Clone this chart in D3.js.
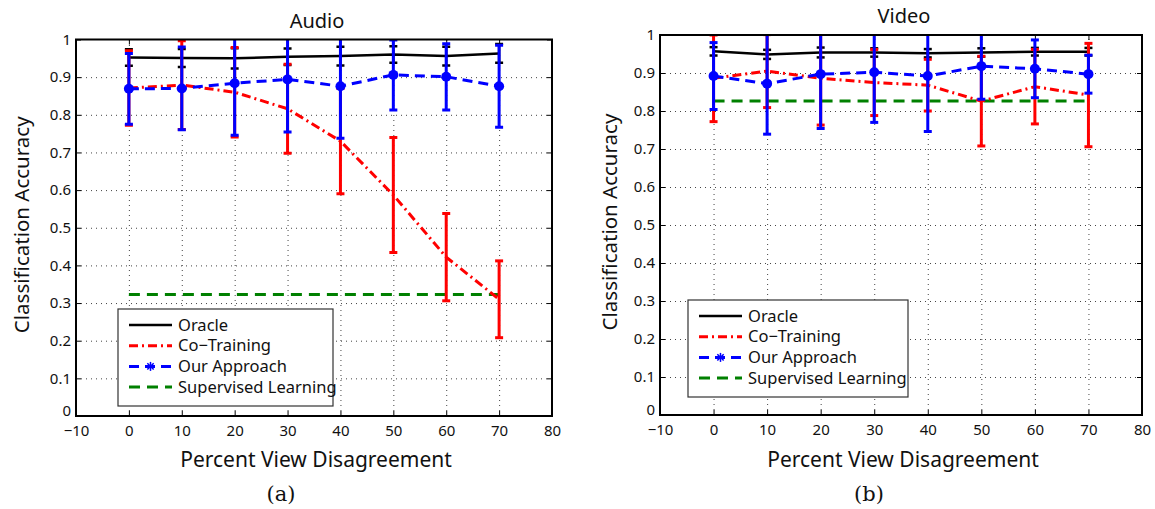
<!DOCTYPE html>
<html>
<head>
<meta charset="utf-8">
<script src="https://cdn.jsdelivr.net/npm/d3@7"></script>
<style>
  body { margin: 0; background: #fff; }
  svg text { font-family: "Noto Sans", "DejaVu Sans", sans-serif; fill: #111; }
  .grid line { stroke: #444; stroke-width: 1; stroke-dasharray: 1,4; }
  .grid path { display: none; }
</style>
</head>
<body>
<div id="chart"></div>
<script>
// data
const disagreement = [0, 10, 20, 30, 40, 50, 60, 70];
const seriesNames = ["Oracle", "Co\u2212Training", "Our Approach", "Supervised Learning"];

const audioOracle = [0.952, 0.951, 0.950, 0.954, 0.956, 0.960, 0.956, 0.963];
const audioOracleErr = [0.022, 0.024, 0.027, 0.022, 0.025, 0.022, 0.025, 0.025];
const audioCoTrain = [0.871, 0.879, 0.860, 0.816, 0.730, 0.587, 0.422, 0.310];
const audioCoTrainErr = [0.099, 0.118, 0.119, 0.118, 0.140, 0.153, 0.116, 0.102];
const audioOurs = [0.869, 0.870, 0.884, 0.894, 0.876, 0.906, 0.901, 0.876];
const audioOursErr = [0.094, 0.110, 0.138, 0.140, 0.138, 0.093, 0.088, 0.109];
const audioSupervised = 0.323;

const videoOracle = [0.957, 0.949, 0.954, 0.954, 0.952, 0.954, 0.956, 0.956];
const videoOracleErr = [0.011, 0.012, 0.013, 0.011, 0.011, 0.011, 0.010, 0.010];
const videoCoTrain = [0.886, 0.905, 0.886, 0.875, 0.868, 0.826, 0.864, 0.842];
const videoCoTrainErr = [0.114, 0.096, 0.123, 0.087, 0.068, 0.118, 0.098, 0.136];
const videoOurs = [0.892, 0.872, 0.897, 0.902, 0.892, 0.918, 0.911, 0.897];
const videoOursErr = [0.088, 0.133, 0.143, 0.132, 0.146, 0.087, 0.076, 0.050];
const videoSupervised = 0.826;

const xTicks = [-10, 0, 10, 20, 30, 40, 50, 60, 70, 80];
const yTicks = [0, 0.1, 0.2, 0.3, 0.4, 0.5, 0.6, 0.7, 0.8, 0.9, 1];

const width = 1155, height = 509;
const svg = d3.select("#chart").append("svg")
  .attr("width", width)
  .attr("height", height);

const styles = [
  { color: "#000000", dash: null, width: 2.5 },
  { color: "#ff0000", dash: "9,4,2,4", width: 3 },
  { color: "#0000ff", dash: "10,6", width: 3 },
  { color: "#008000", dash: "11,7", width: 3 }
];

function drawPanel(p) {
  const x = d3.scaleLinear().domain([-10, 80]).range([p.left, p.right]);
  const y = d3.scaleLinear().domain([0, 1]).range([p.bottom, p.top]);
  const g = svg.append("g");

  const clipId = "clip-" + p.id;
  svg.append("clipPath").attr("id", clipId)
    .append("rect")
    .attr("x", p.left).attr("y", p.top)
    .attr("width", p.right - p.left).attr("height", p.bottom - p.top);

  // grid
  g.append("g").attr("class", "grid")
    .attr("transform", `translate(0,${p.bottom})`)
    .call(d3.axisBottom(x).tickValues(xTicks.slice(1, -1)).tickSize(-(p.bottom - p.top)).tickFormat(""));
  g.append("g").attr("class", "grid")
    .attr("transform", `translate(${p.left},0)`)
    .call(d3.axisLeft(y).tickValues(yTicks.slice(1, -1)).tickSize(-(p.right - p.left)).tickFormat(""));

  // axes with tick labels
  const xAxis = g.append("g")
    .attr("transform", `translate(0,${p.bottom})`)
    .call(d3.axisBottom(x).tickValues(xTicks).tickSize(-5).tickPadding(9.5));
  const yAxis = g.append("g")
    .attr("transform", `translate(${p.left},0)`)
    .call(d3.axisLeft(y).tickValues(yTicks).tickSize(-5).tickPadding(5)
      .tickFormat(d => (d === 0 || d === 1) ? String(d) : d.toFixed(1)));
  [xAxis, yAxis].forEach(a => {
    a.select(".domain").remove();
    a.selectAll("line").attr("stroke", "#000");
    a.selectAll("text").style("font-size", "15px").attr("fill", "#111");
  });
  // lift the "0" a little, as in the original
  yAxis.selectAll(".tick").filter(d => d === 0).select("text").attr("dy", "-0.04em");

  // top and right ticks
  g.append("g").attr("transform", `translate(0,${p.top})`)
    .call(d3.axisTop(x).tickValues(xTicks).tickSize(-5).tickFormat(""))
    .call(a => a.select(".domain").remove());
  g.append("g").attr("transform", `translate(${p.right},0)`)
    .call(d3.axisRight(y).tickValues(yTicks).tickSize(-5).tickFormat(""))
    .call(a => a.select(".domain").remove());

  const plot = g.append("g").attr("clip-path", `url(#${clipId})`);

  // supervised baseline
  plot.append("line")
    .attr("x1", x(disagreement[0])).attr("x2", x(disagreement[disagreement.length - 1]))
    .attr("y1", y(p.supervised)).attr("y2", y(p.supervised))
    .attr("stroke", styles[3].color).attr("stroke-width", styles[3].width)
    .attr("stroke-dasharray", styles[3].dash);

  const series = [
    { mean: p.oracle, err: p.oracleErr, s: styles[0] },
    { mean: p.coTrain, err: p.coTrainErr, s: styles[1] },
    { mean: p.ours, err: p.oursErr, s: styles[2], marker: true }
  ];

  const line = d3.line().x((d, i) => x(disagreement[i])).y(d => y(d));

  series.forEach(sr => {
    const rows = disagreement.map((d, i) => ({ x: d, m: sr.mean[i], e: sr.err[i] }));
    const eb = plot.append("g")
      .attr("stroke", sr.s.color)
      .attr("stroke-width", sr.s === styles[0] ? 2.5 : 3);
    eb.selectAll(".bar").data(rows).enter().append("line")
      .attr("x1", d => x(d.x)).attr("x2", d => x(d.x))
      .attr("y1", d => y(d.m - d.e)).attr("y2", d => y(d.m + d.e));
    eb.selectAll(".capLo").data(rows).enter().append("line")
      .attr("x1", d => x(d.x) - 4).attr("x2", d => x(d.x) + 4)
      .attr("y1", d => y(d.m - d.e)).attr("y2", d => y(d.m - d.e));
    eb.selectAll(".capHi").data(rows).enter().append("line")
      .attr("x1", d => x(d.x) - 4).attr("x2", d => x(d.x) + 4)
      .attr("y1", d => y(d.m + d.e)).attr("y2", d => y(d.m + d.e));

    plot.append("path")
      .datum(sr.mean)
      .attr("d", line)
      .attr("fill", "none")
      .attr("stroke", sr.s.color)
      .attr("stroke-width", sr.s.width)
      .attr("stroke-dasharray", sr.s.dash);

    if (sr.marker) {
      plot.selectAll(".dot-" + p.id).data(rows).enter().append("circle")
        .attr("cx", d => x(d.x)).attr("cy", d => y(d.m))
        .attr("r", 5).attr("fill", sr.s.color);
    }
  });

  // box
  g.append("rect")
    .attr("x", p.left).attr("y", p.top)
    .attr("width", p.right - p.left).attr("height", p.bottom - p.top)
    .attr("fill", "none").attr("stroke", "#000").attr("stroke-width", 2);

  // title and labels
  g.append("text")
    .attr("x", (p.left + p.right) / 2 + 3).attr("y", p.top - 12)
    .attr("text-anchor", "middle").style("font-size", "20px")
    .text(p.title);
  g.append("text")
    .attr("x", (p.left + p.right) / 2 + 2).attr("y", 467)
    .attr("text-anchor", "middle").style("font-size", "21px")
    .text("Percent View Disagreement");
  g.append("text")
    .attr("transform", `rotate(-90)`)
    .attr("x", -(p.top + p.bottom) / 2 + 3).attr("y", p.yLabelX)
    .attr("text-anchor", "middle").style("font-size", "20.5px")
    .text("Classification Accuracy");
  g.append("text")
    .attr("x", p.captionX).attr("y", 501)
    .attr("text-anchor", "middle")
    .style("font-family", "'DejaVu Serif', 'Liberation Serif', serif")
    .style("font-size", "21px")
    .text(p.caption);

  // legend
  const lg = g.append("g").attr("transform", `translate(${p.legend[0]},${p.legend[1]})`);
  lg.append("rect")
    .attr("width", p.legend[2]).attr("height", 97)
    .attr("fill", "#fff").attr("stroke", "#333").attr("stroke-width", 1.2);
  seriesNames.forEach((name, i) => {
    const ly = 16 + i * 20.7;
    lg.append("line")
      .attr("x1", 11).attr("x2", 54).attr("y1", ly).attr("y2", ly)
      .attr("stroke", styles[i].color).attr("stroke-width", styles[i].width)
      .attr("stroke-dasharray", styles[i].dash);
    if (i === 2) {
      const star = lg.append("g").attr("transform", `translate(32.5,${ly})`)
        .attr("stroke", styles[i].color).attr("stroke-width", 1.5);
      [0, 45, 90, 135].forEach(a => {
        star.append("line")
          .attr("x1", -4.5).attr("x2", 4.5).attr("y1", 0).attr("y2", 0)
          .attr("transform", `rotate(${a})`);
      });
    }
    lg.append("text")
      .attr("x", 60).attr("y", ly + 5.5)
      .style("font-size", "16.5px")
      .text(name);
  });
}

drawPanel({
  id: "a", title: "Audio", caption: "(a)", captionX: 281, yLabelX: 29,
  left: 76, right: 552, top: 39.5, bottom: 416,
  oracle: audioOracle, oracleErr: audioOracleErr,
  coTrain: audioCoTrain, coTrainErr: audioCoTrainErr,
  ours: audioOurs, oursErr: audioOursErr,
  supervised: audioSupervised,
  legend: [118, 309, 215]
});

drawPanel({
  id: "b", title: "Video", caption: "(b)", captionX: 869, yLabelX: 617,
  left: 660, right: 1142, top: 35, bottom: 415,
  oracle: videoOracle, oracleErr: videoOracleErr,
  coTrain: videoCoTrain, coTrainErr: videoCoTrainErr,
  ours: videoOurs, oursErr: videoOursErr,
  supervised: videoSupervised,
  legend: [688, 300, 220]
});
</script>
</body>
</html>
